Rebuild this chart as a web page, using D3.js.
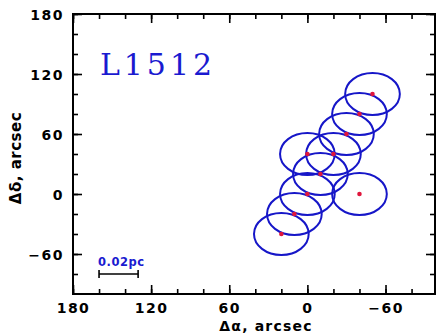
<!DOCTYPE html>
<html><head><meta charset="utf-8">
<script src="https://cdn.jsdelivr.net/npm/d3@7"></script>
<style>
html,body{margin:0;padding:0;background:#fff;}
svg{display:block;}
.tl text{font-family:"DejaVu Sans",sans-serif;font-weight:bold;font-size:14px;letter-spacing:1.5px;fill:#000;}
</style></head>
<body>
<script>
// ---- data ----
const raOffsets  = [20, 10, 0, -10, 0, -20, -30, -40, -50, -40];   // Δα, arcsec
const decOffsets = [-40, -20, 0, 20, 40, 40, 60, 80, 100, 0];      // Δδ, arcsec
const beamRadius = 21;                                            // arcsec
const xMajorTicks = [180, 120, 60, 0, -60];
const yMajorTicks = [180, 120, 60, 0, -60];
const xMinorTicks = [180,160,140,120,100,80,60,40,20,0,-20,-40,-60,-80];
const yMinorTicks = [180,160,140,120,100,80,60,40,20,0,-20,-40,-60,-80];
const sourceName = "L1512";
const scaleBarRange = [160, 130];   // arcsec
const scaleBarDec = -80;
const scaleBarLabel = "0.02pc";

const W = 437, H = 336;
const m = {left:73, right:2, top:14, bottom:42};
const svg = d3.select("body").append("svg").attr("width", W).attr("height", H);

const x = d3.scaleLinear().domain([180, -98]).range([m.left, W - m.right]);
const y = d3.scaleLinear().domain([-100, 180]).range([H - m.bottom, m.top]);
const iw = W - m.right - m.left, ih = H - m.bottom - m.top;

function axis(gen, tr, vals, size, labels) {
  const g = svg.append("g").attr("class", "tl").attr("transform", tr)
    .call(gen.tickValues(vals).tickSizeInner(-size).tickSizeOuter(0)
      .tickFormat(labels ? d3.format("d") : () => ""));
  g.select(".domain").remove();
  g.selectAll(".tick line").attr("stroke", "#000").attr("stroke-width", 1.6);
  return g;
}
// major
const gb = axis(d3.axisBottom(x), `translate(0,${H - m.bottom})`, xMajorTicks, 9, true);
gb.selectAll(".tick text").attr("y", 19).attr("dy", 0);
const gl = axis(d3.axisLeft(y), `translate(${m.left},0)`, yMajorTicks, 9, true);
gl.selectAll(".tick text").attr("x", -9).attr("dy", "0.36em");
axis(d3.axisTop(x), `translate(0,${m.top})`, xMajorTicks, 9, false);
axis(d3.axisRight(y), `translate(${W - m.right},0)`, yMajorTicks, 9, false);
// minor
axis(d3.axisBottom(x), `translate(0,${H - m.bottom})`, xMinorTicks, 5, false);
axis(d3.axisLeft(y), `translate(${m.left},0)`, yMinorTicks, 5, false);
axis(d3.axisTop(x), `translate(0,${m.top})`, xMinorTicks, 5, false);
axis(d3.axisRight(y), `translate(${W - m.right},0)`, yMinorTicks, 5, false);

// frame
svg.append("rect").attr("x", m.left).attr("y", m.top).attr("width", iw).attr("height", ih)
  .attr("fill", "none").attr("stroke", "#000").attr("stroke-width", 2);

// beams
const pts = raOffsets.map((r, i) => ({ra: r, dec: decOffsets[i]}));
const rx = Math.abs(x(beamRadius) - x(0)), ry = Math.abs(y(beamRadius) - y(0));
svg.append("g").selectAll("ellipse").data(pts).join("ellipse")
  .attr("cx", d => x(d.ra)).attr("cy", d => y(d.dec))
  .attr("rx", rx).attr("ry", ry)
  .attr("fill", "none").attr("stroke", "#1616c8").attr("stroke-width", 2);
svg.append("g").selectAll("circle").data(pts).join("circle")
  .attr("cx", d => x(d.ra)).attr("cy", d => y(d.dec)).attr("r", 2.3)
  .attr("fill", "#e0163c");

// source name
svg.append("text").attr("x", 100).attr("y", 75)
  .attr("font-family", "DejaVu Serif, serif").attr("font-size", 30)
  .attr("textLength", 112).attr("lengthAdjust", "spacing")
  .attr("fill", "#1a1ad0").text(sourceName);

// scale bar
const sb = svg.append("g").attr("stroke", "#000").attr("stroke-width", 1.6);
const sy = y(scaleBarDec);
sb.append("line").attr("x1", x(scaleBarRange[0])).attr("x2", x(scaleBarRange[1])).attr("y1", sy).attr("y2", sy);
scaleBarRange.forEach(v => sb.append("line").attr("x1", x(v)).attr("x2", x(v)).attr("y1", sy - 4).attr("y2", sy + 4));
svg.append("text").attr("x", x(scaleBarRange[0]) - 1).attr("y", 266)
  .attr("font-family", "DejaVu Sans, sans-serif").attr("font-weight", "bold").attr("font-size", 11.5)
  .attr("letter-spacing", 0.5).attr("fill", "#1a1ad0").text(scaleBarLabel);

// axis titles
svg.append("text").attr("x", 266).attr("y", 331).attr("text-anchor", "middle")
  .attr("font-family", "DejaVu Sans, sans-serif").attr("font-weight", "bold").attr("font-size", 14)
  .attr("letter-spacing", 1.2).attr("fill", "#000")
  .text("Δα, arcsec");
svg.append("text").attr("transform", "translate(21,158) rotate(-90)").attr("text-anchor", "middle")
  .attr("font-family", "DejaVu Sans, sans-serif").attr("font-weight", "bold").attr("font-size", 15)
  .attr("letter-spacing", 0.5).attr("fill", "#000")
  .text("Δδ, arcsec");
</script>
</body></html>
